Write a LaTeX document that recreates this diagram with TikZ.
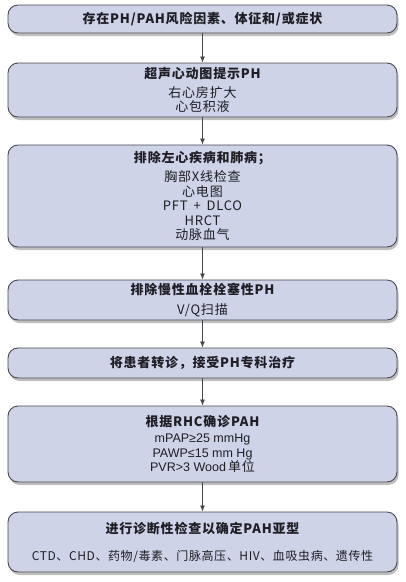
\documentclass[tikz,border=0pt]{standalone}
\usepackage{fontspec}
\setmainfont{Noto Sans CJK SC}
\newfontfamily\latinfont{Liberation Sans}
\usetikzlibrary{shadows,arrows.meta}

\definecolor{boxfill}{RGB}{206,211,232}
\definecolor{boxline}{RGB}{70,72,80}
\definecolor{inktext}{RGB}{30,30,36}

\tikzset{
    stagebox/.style={draw=boxline, line width=0.9pt, fill=boxfill, rounded corners=10pt,
        minimum width=389pt, align=center, text=inktext, inner sep=0pt,
        font=\fontsize{13}{14.5}\selectfont,
        drop shadow={shadow xshift=1.5pt, shadow yshift=-3pt, opacity=0.5}},
    flowarrow/.style={draw=boxline, line width=0.8pt, -{Latex[length=6pt,width=5pt]}},
}
\newcommand{\headline}[1]{{\bfseries\addfontfeatures{LetterSpace=6}#1}}
\newcommand{\subline}[1]{{\addfontfeatures{LetterSpace=6}#1}}

\begin{document}
\begin{tikzpicture}[x=1pt, y=-1pt]
    \useasboundingbox (0,0) rectangle (405,582);

    % boxes
    \node[stagebox, minimum height=28pt] (risk) at (202.5,19) {\headline{存在PH/PAH风险因素、体征和/或症状}};
    \node[stagebox, minimum height=54pt] (echo) at (202.5,90) {\headline{超声心动图提示PH}\\[4pt] \subline{右心房扩大}\\ \subline{心包积液}};
    \node[stagebox, minimum height=102pt] (lung) at (202.5,196) {\headline{排除左心疾病和肺病；}\\[4.5pt] \subline{胸部X线检查}\\ \subline{心电图}\\ \subline{PFT\, + \,DLCO}\\ \subline{HRCT}\\ \subline{动脉血气}};
    \node[stagebox, minimum height=40pt] (cteph) at (202.5,300) {\headline{排除慢性血栓栓塞性PH}\\[5.5pt] \subline{V/Q扫描}};
    \node[stagebox, minimum height=30pt] (refer) at (202.5,363) {\headline{将患者转诊，接受PH专科治疗}};
    \node[stagebox, minimum height=76pt] (rhc) at (202.5,444) {\headline{根据RHC确诊PAH}\\[1.5pt] {\latinfont\fontsize{12.5}{14.5}\selectfont mPAP≥25 mmHg}\\ {\latinfont\fontsize{12.5}{14.5}\selectfont PAWP≤15 mm Hg}\\ {\latinfont\fontsize{12.5}{14.5}\selectfont PVR>3 Wood\,}\subline{单位}};
    \node[stagebox, minimum height=60pt] (subtype) at (202.5,542) {\headline{进行诊断性检查以确定PAH亚型}\\[12.5pt] {\fontsize{12}{14.5}\selectfont\addfontfeatures{LetterSpace=5}CTD、CHD、药物/毒素、门脉高压、HIV、血吸虫病、遗传性}};

    % arrows
    \draw[flowarrow] (risk) -- (echo);
    \draw[flowarrow] (echo) -- (lung);
    \draw[flowarrow] (lung) -- (cteph);
    \draw[flowarrow] (cteph) -- (refer);
    \draw[flowarrow] (refer) -- (rhc);
    \draw[flowarrow] (rhc) -- (subtype);
\end{tikzpicture}
\end{document}
